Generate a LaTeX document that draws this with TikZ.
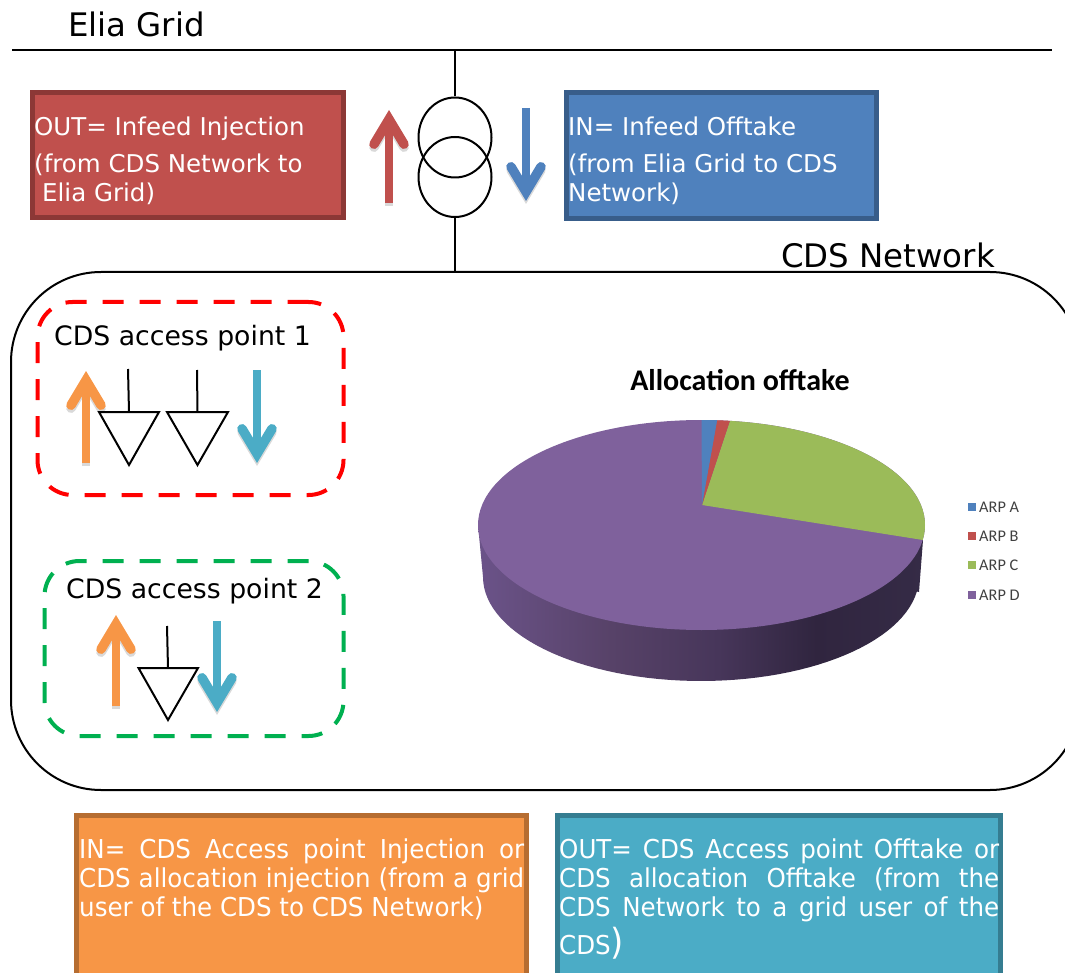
\documentclass[tikz,border=0pt]{standalone}
\usepackage{fontspec}
\setmainfont{DejaVu Sans}
\newfontfamily\condfont[FakeStretch=0.944]{DejaVu Sans}
\newfontfamily\chartfont{Carlito}
\usetikzlibrary{arrows.meta,shapes.geometric}
\definecolor{cred}{HTML}{C0504D}\definecolor{credd}{HTML}{8C3836}
\definecolor{cblue}{HTML}{4F81BD}\definecolor{cblued}{HTML}{385D8A}
\definecolor{corange}{HTML}{F79646}\definecolor{coranged}{HTML}{B66D31}
\definecolor{cteal}{HTML}{4BACC6}\definecolor{cteald}{HTML}{357D91}
\definecolor{cgreen}{HTML}{9BBB59}\definecolor{cpurple}{HTML}{7F619C}
\definecolor{dgreen}{HTML}{00B050}
\definecolor{pa}{HTML}{6B5389}\definecolor{pb}{HTML}{574268}\definecolor{pc}{HTML}{47365A}
\definecolor{pd}{HTML}{30253F}\definecolor{pe}{HTML}{352B46}
\pgfdeclarehorizontalshading{pieside}{100bp}{
 color(0bp)=(pa);color(25bp)=(pa);color(40bp)=(pb);color(52bp)=(pc);color(63bp)=(pd);color(75bp)=(pe);color(100bp)=(pe)}
\newcommand{\flowarrow}[3]{%
 \draw[flowstyle,draw=black,opacity=.15,transform canvas={yshift=-3pt}] (#2) -- (#3);
 \draw[flowstyle,draw=#1] (#2) -- (#3);}
\tikzset{
 x=1pt,y=-1pt,
 flowstyle/.style={line width=8pt,-{Straight Barb[length=25pt,width=30pt,line width=9.5pt,line cap=round,line join=miter]}},
 wire/.style={draw=black,line width=2pt},
 infobox/.style={rectangle,draw,line width=5pt,inner sep=0pt,anchor=north west},
 topbox/.style={anchor=north west,inner sep=0pt,align=left,text=white,font=\fontsize{24.5}{30}\selectfont},
 botbox/.style={anchor=north west,inner sep=0pt,align=left,text=white,font=\condfont\fontsize{26}{29}\selectfont},
 caption/.style={anchor=base west,inner sep=0pt,font=\fontsize{26.7}{32}\selectfont},
 bigcaption/.style={caption,font=\fontsize{32.4}{38}\selectfont},
 accessbox/.style={rectangle,draw,line width=4pt,rounded corners=35pt,dash pattern=on 21pt off 16pt,anchor=north west,inner sep=0pt},
 winding/.style={ellipse,draw,line width=2pt,minimum width=73pt,minimum height=80pt,inner sep=0pt},
 load/.style={draw=black,line width=2pt,line join=miter},
 legendmark/.style={rectangle,minimum size=8.5pt,inner sep=0pt},
 legendtext/.style={anchor=west,inner sep=0pt,font=\chartfont\fontsize{16.3}{18}\selectfont,text=black!75},
}
\begin{document}
\begin{tikzpicture}
\useasboundingbox (0,0) rectangle (1065,973);
\clip (0,0) rectangle (1065,973);
% grid
\node[bigcaption] (elia) at (68,37) {Elia Grid};
\coordinate (gl) at (12,50); \coordinate (gr) at (1052,50); \coordinate (gt) at (455,50);
\draw[wire] (gl) -- (gr);
% CDS network frame
\draw[line width=2pt,rounded corners=90pt] (11,272) rectangle (1080,790);
\node[bigcaption] (cds) at (781,268) {CDS Network};
% transformer
\node[winding] (w1) at (455,137.5) {};
\node[winding] (w2) at (455,177) {};
\coordinate (nt) at (455,272);
\draw[wire] (gt) -- (w1.north);
\draw[wire] (w2.south) -- (nt);
% top boxes
\node[infobox,draw=credd,fill=cred,minimum width=311pt,minimum height=125pt] (rbox) at (29.5,90) {};
\node[infobox,draw=cblued,fill=cblue,minimum width=310pt,minimum height=126pt] (bbox) at (563.5,90) {};
\node[topbox] (rtext) at (34,117) {OUT= Infeed Injection\\[7pt](from CDS Network to\\[-1pt]\hspace*{8pt}Elia Grid)};
\node[topbox] (btext) at (568,117) {IN= Infeed Offtake\\[7pt](from Elia Grid to CDS\\[-1pt]Network)};
% big arrows
\coordinate (ra1) at (389,203); \coordinate (ra2) at (389,110);
\coordinate (ba1) at (526,108); \coordinate (ba2) at (526,201);
\flowarrow{cred}{ra1}{ra2}
\flowarrow{cblue}{ba1}{ba2}
% access point 1
\node[accessbox,draw=red,minimum width=306pt,minimum height=193pt] (ap1) at (35.5,300) {};
\node[caption] (ap1t) at (54,345) {CDS access point 1};
\coordinate (oa1) at (86,463); \coordinate (oa2) at (86,371);
\coordinate (ta1) at (257,370); \coordinate (ta2) at (257,463);
\flowarrow{corange}{oa1}{oa2}
\flowarrow{cteal}{ta1}{ta2}
\coordinate (s1) at (128,369); \coordinate (s2) at (197,370);
\coordinate (l1a) at (129,412); \coordinate (l2a) at (197.5,412);
\draw[load] (s1) -- (l1a);
\draw[load] (s2) -- (l2a);
\draw[load] (99,412) -- (159,412) -- (129,465) -- cycle;
\draw[load] (167,412) -- (228,412) -- (197.5,465) -- cycle;
% access point 2
\node[accessbox,draw=dgreen,minimum width=299pt,minimum height=175pt] (ap2) at (42.5,559) {};
\node[caption] (ap2t) at (66,598) {CDS access point 2};
\coordinate (oc1) at (116,706); \coordinate (oc2) at (116,615);
\coordinate (tc1) at (217,621); \coordinate (tc2) at (217,712);
\flowarrow{corange}{oc1}{oc2}
\flowarrow{cteal}{tc1}{tc2}
\coordinate (s3) at (167,626); \coordinate (l3a) at (168,668);
\draw[load] (s3) -- (l3a);
\draw[load] (138.5,668) -- (198,668) -- (168,720) -- cycle;
% pie chart
\node[inner sep=0pt,font=\chartfont\bfseries\fontsize{30}{34}\selectfont] (title) at (740,380) {Allocation offtake};
\shade[shading=pieside] (923,540) -- (919,592)
  -- plot[domain=-8:-180,samples=60] ({701+218*cos(\x)},{577-104*sin(\x)})
  -- (478,525) -- cycle;
\fill[cpurple] (701.5,525) ellipse [x radius=223.5,y radius=105];
\fill[cgreen] (702,505) -- plot[domain=82.7:-8.2,samples=40] ({701.5+223.5*cos(\x)},{525-105*sin(\x)}) -- cycle;
\fill[cred] (702,505) -- plot[domain=86:82.7,samples=5] ({701.5+223.5*cos(\x)},{525-105*sin(\x)}) -- cycle;
\fill[cblue] (702,505) -- plot[domain=90:86,samples=5] ({701.5+223.5*cos(\x)},{525-105*sin(\x)}) -- cycle;
% legend
\node[legendmark,fill=cblue] (la) at (972,507) {};
\node[legendmark,fill=cred] (lb) at (972,536) {};
\node[legendmark,fill=cgreen] (lc) at (972,565) {};
\node[legendmark,fill=cpurple] (ld) at (972,595) {};
\node[legendtext] at (979,507) {ARP A};
\node[legendtext] at (979,536) {ARP B};
\node[legendtext] at (979,565) {ARP C};
\node[legendtext] at (979,595) {ARP D};
% bottom boxes
\node[infobox,draw=coranged,fill=corange,minimum width=450pt,minimum height=180pt] (obox) at (74,813) {};
\node[infobox,draw=cteald,fill=cteal,minimum width=443pt,minimum height=180pt] (tbox) at (554.5,812.5) {};
\node[botbox] (otext) at (79,839) {\makebox[445pt][s]{IN= CDS Access point Injection or}\\
 \makebox[445pt][s]{CDS allocation injection (from a grid}\\
 user of the CDS to CDS Network)};
\node[botbox] (ttext) at (559,839) {\makebox[440pt][s]{OUT= CDS Access point Offtake or}\\
 \makebox[440pt][s]{CDS allocation Offtake (from the}\\
 \makebox[440pt][s]{CDS Network to a grid user of the}\\[4pt]
 CDS{\fontsize{36}{36}\selectfont)}};
\end{tikzpicture}
\end{document}
